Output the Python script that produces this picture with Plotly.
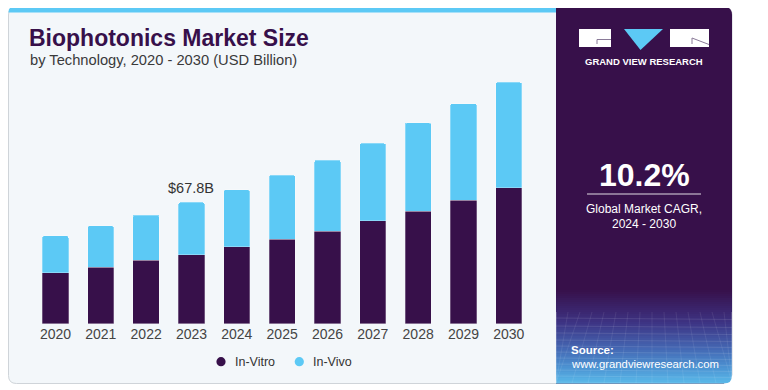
import plotly.graph_objects as go

# ---------------- data ----------------
years = ["2020", "2021", "2022", "2023", "2024", "2025", "2026", "2027", "2028", "2029", "2030"]
in_vitro = [28.5, 31.5, 35.4, 38.4, 43.0, 47.1, 51.6, 57.5, 62.8, 68.9, 75.8]
in_vivo = [20.5, 23.1, 25.3, 29.4, 31.7, 35.8, 39.8, 43.2, 49.3, 54.0, 59.0]
series_names = ["In-Vitro", "In-Vivo"]
highlight_year = "2023"
highlight_label = "$67.8B"

# ---------------- styling ----------------
OFF = 8  # page body margin
W, H = 768 - OFF, 390 - OFF
PURPLE = "#37104a"
BLUE = "#5cc9f5"
CARD_BG = "#f3f7fa"
FONT = "Liberation Sans, Arial, sans-serif"


def px(x):
    return (x - OFF) / W


def py(y):
    return 1 - (y - OFF) / H


fig = go.Figure()
fig.add_trace(go.Bar(x=years, y=in_vitro, name=series_names[0], marker=dict(color=PURPLE, line=dict(color="rgba(255,255,255,0.35)", width=0.8)), showlegend=False))
fig.add_trace(go.Bar(x=years, y=in_vivo, name=series_names[1], marker=dict(color=BLUE, line=dict(color="rgba(255,255,255,0.35)", width=0.8)), showlegend=False))

shapes = []


def rounded_path(x0, y0, x1, y1, r, corners=(True, True, True, True)):
    rx, ry = r / W, r / H
    X0, X1, Y0, Y1 = px(x0), px(x1), py(y0), py(y1)
    tl, tr, br, bl = corners
    p = []
    p.append(f"M {X0},{Y0 - ry} Q {X0},{Y0} {X0 + rx},{Y0}" if tl else f"M {X0},{Y0}")
    p.append(f"L {X1 - rx},{Y0} Q {X1},{Y0} {X1},{Y0 - ry}" if tr else f"L {X1},{Y0}")
    p.append(f"L {X1},{Y1 + ry} Q {X1},{Y1} {X1 - rx},{Y1}" if br else f"L {X1},{Y1}")
    p.append(f"L {X0 + rx},{Y1} Q {X0},{Y1} {X0},{Y1 + ry}" if bl else f"L {X0},{Y1}")
    p.append("Z")
    return " ".join(p)


# card
shapes.append(dict(type="path", xref="paper", yref="paper", layer="below",
                   path=rounded_path(8.5, 7, 732, 383.5, 8),
                   fillcolor=CARD_BG, line=dict(color="#cfd4d9", width=1)))
# top stripe
shapes.append(dict(type="path", xref="paper", yref="paper", layer="below",
                   path=rounded_path(8.5, 7, 560, 12.5, 5, (True, False, False, False)),
                   fillcolor=BLUE, line=dict(width=0)))
# right panel
shapes.append(dict(type="path", xref="paper", yref="paper", layer="below",
                   path=rounded_path(556, 7, 732, 383.5, 8, (False, True, True, False)),
                   fillcolor=PURPLE, line=dict(width=0)))


def hex2rgb(h):
    h = h.lstrip("#")
    return tuple(int(h[i:i + 2], 16) for i in (0, 2, 4))


stops = [(290, "#37104a"), (322, "#3d3282"), (348, "#4466b2"), (368, "#4c94d3"), (384, "#5bbbea")]
y = 290
step = 2
while y < 383.5:
    yc = y + step / 2
    for (ya, ca), (yb, cb) in zip(stops[:-1], stops[1:]):
        if ya <= yc <= yb:
            t = (yc - ya) / (yb - ya)
            a, b = hex2rgb(ca), hex2rgb(cb)
            col = "rgb({},{},{})".format(*[round(a[i] + (b[i] - a[i]) * t) for i in range(3)])
            break
    shapes.append(dict(type="rect", xref="paper", yref="paper", layer="below",
                       x0=px(556), x1=px(732), y0=py(min(y + step + 0.3, 383.5)), y1=py(y),
                       fillcolor=col, line=dict(width=0)))
    y += step

# faint perspective grid
grid_rows = [318, 326, 333, 340, 346, 352, 358, 364, 370, 376, 382]
for gy in grid_rows:
    shapes.append(dict(type="line", xref="paper", yref="paper", layer="below",
                       x0=px(556), x1=px(732), y0=py(gy), y1=py(gy + 1.5),
                       line=dict(color="rgba(255,255,255,0.13)", width=0.8)))
for k in range(-4, 20):
    xt = 556 + k * 12
    xb = 556 + (k - 2) * 16
    shapes.append(dict(type="line", xref="paper", yref="paper", layer="below",
                       x0=px(max(min(xt, 732), 556)), y0=py(312), x1=px(max(min(xb, 732), 556)), y1=py(383),
                       line=dict(color="rgba(255,255,255,0.10)", width=0.8)))
# mask bottom-right corner
r = 8
shapes.append(dict(type="path", xref="paper", yref="paper", layer="below",
                   path=f"M {px(732)},{py(383.5 - r)} L {px(733.5)},{py(383.5 - r)} L {px(733.5)},{py(385)} L {px(732 - r)},{py(385)} L {px(732 - r)},{py(383.5)} Q {px(732)},{py(383.5)} {px(732)},{py(383.5 - r)} Z",
                   fillcolor="white", line=dict(width=0)))

# logo
shapes.append(dict(type="rect", xref="paper", yref="paper", layer="above",
                   x0=px(579), x1=px(611), y0=py(47), y1=py(29), fillcolor="white", line=dict(width=0)))
shapes.append(dict(type="path", xref="paper", yref="paper", layer="above",
                   path=f"M {px(624)},{py(29)} L {px(663)},{py(29)} L {px(640.5)},{py(50)} Z",
                   fillcolor=BLUE, line=dict(width=0)))
shapes.append(dict(type="rect", xref="paper", yref="paper", layer="above",
                   x0=px(670), x1=px(709), y0=py(47), y1=py(29), fillcolor="white", line=dict(width=0)))
shapes.append(dict(type="path", xref="paper", yref="paper", layer="above",
                   path=f"M {px(611)},{py(39.5)} L {px(597)},{py(39.5)} L {px(597)},{py(44)}",
                   line=dict(color="#8a7a98", width=1)))
shapes.append(dict(type="path", xref="paper", yref="paper", layer="above",
                   path=f"M {px(692)},{py(38)} L {px(709)},{py(44.5)} M {px(692)},{py(38)} L {px(692)},{py(44)}",
                   line=dict(color="#8a7a98", width=1)))
# divider under CAGR
shapes.append(dict(type="line", xref="paper", yref="paper", layer="above",
                   x0=px(587), x1=px(701), y0=py(194), y1=py(194),
                   line=dict(color="rgba(255,255,255,0.85)", width=1)))

# legend (manual, circle markers)
legend_items = [(series_names[0], PURPLE, 221, 232.5), (series_names[1], BLUE, 299.3, 310.8)]
annotations = []
for name, col, cx, tx in legend_items:
    shapes.append(dict(type="circle", xref="paper", yref="paper", layer="above",
                       x0=px(cx - 4.6), x1=px(cx + 4.6), y0=py(361.7 + 4.6), y1=py(361.7 - 4.6),
                       fillcolor=col, line=dict(width=0)))
    annotations.append(dict(text=name, xref="paper", yref="paper", x=px(tx), y=py(361.7),
                            xanchor="left", yanchor="middle", showarrow=False,
                            font=dict(family=FONT, size=12.5, color="#333333")))

hi = years.index(highlight_year)
annotations += [
    dict(text="<b>Biophotonics Market Size</b>", xref="paper", yref="paper", x=px(26.5), y=py(38),
         xanchor="left", yanchor="middle", showarrow=False, font=dict(family=FONT, size=23, color=PURPLE)),
    dict(text="by Technology, 2020 - 2030 (USD Billion)", xref="paper", yref="paper", x=px(27.5), y=py(60),
         xanchor="left", yanchor="middle", showarrow=False, font=dict(family=FONT, size=14.7, color="#3a3a3a")),
    dict(text=highlight_label, xref="x", yref="y", x=hi, y=in_vitro[hi] + in_vivo[hi],
         xanchor="center", yanchor="bottom", yshift=4, showarrow=False, font=dict(family=FONT, size=14.5, color="#333333")),
    dict(text="<b>GRAND VIEW RESEARCH</b>", xref="paper", yref="paper", x=px(644), y=py(62),
         xanchor="center", yanchor="middle", showarrow=False, font=dict(family=FONT, size=9.5, color="white")),
    dict(text="<b>10.2%</b>", xref="paper", yref="paper", x=px(644), y=py(175),
         xanchor="center", yanchor="middle", showarrow=False, font=dict(family=FONT, size=32, color="white")),
    dict(text="Global Market CAGR,", xref="paper", yref="paper", x=px(644), y=py(208.5),
         xanchor="center", yanchor="middle", showarrow=False, font=dict(family=FONT, size=12, color="white")),
    dict(text="2024 - 2030", xref="paper", yref="paper", x=px(644), y=py(223.5),
         xanchor="center", yanchor="middle", showarrow=False, font=dict(family=FONT, size=12, color="white")),
    dict(text="<b>Source:</b>", xref="paper", yref="paper", x=px(569), y=py(349.5),
         xanchor="left", yanchor="middle", showarrow=False, font=dict(family=FONT, size=11.5, color="white")),
    dict(text="www.grandviewresearch.com", xref="paper", yref="paper", x=px(569), y=py(363.5),
         xanchor="left", yanchor="middle", showarrow=False, font=dict(family=FONT, size=11.3, color="white")),
]

base_px, top_px = 323.7, 60
px_per_unit = 121.4 / 67.8
y_max = (base_px - top_px) / px_per_unit

fig.update_layout(
    width=W, height=H, autosize=False,
    margin=dict(l=0, r=0, t=0, b=0, pad=0),
    paper_bgcolor="white", plot_bgcolor="rgba(0,0,0,0)",
    barmode="stack", bargap=0.42, barcornerradius=2,
    showlegend=False,
    shapes=shapes, annotations=annotations,
    xaxis=dict(domain=[px(32.8), px(531.5)], range=[-0.5, 10.5], type="category",
               showgrid=False, zeroline=False, showline=False, ticks="",
               tickfont=dict(family=FONT, size=14, color="#444444"), fixedrange=True),
    yaxis=dict(domain=[py(base_px), py(top_px)], range=[0, y_max], visible=False, fixedrange=True),
)

fig.write_html("out.html")
